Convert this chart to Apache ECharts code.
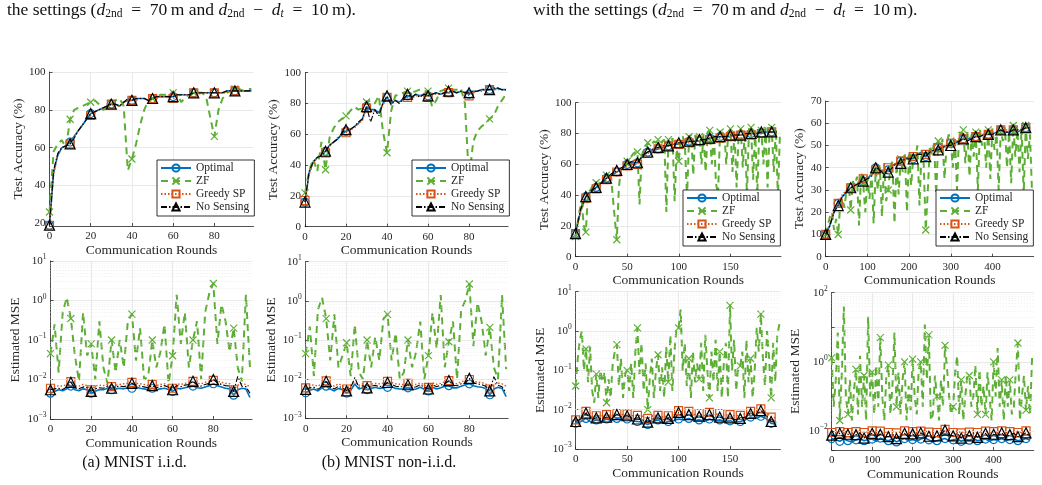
<!DOCTYPE html>
<html>
<head>
<meta charset="utf-8">
<script src="https://cdn.jsdelivr.net/npm/echarts@6/dist/echarts.min.js"></script>
<style>
html, body { margin: 0; padding: 0; background: #fff; }
#chart { width: 1042px; height: 485px; }
</style>
</head>
<body>
<div id="chart"></div>
<script>
// ---- rounds (x positions of the samples) ----
const rounds100 = Array.from({ length: 50 }, (_, i) => i * 2);    // 0..98
const rounds200 = Array.from({ length: 40 }, (_, i) => i * 5);    // 0..195
const rounds200z = Array.from({ length: 100 }, (_, i) => i * 2);  // 0..198 (ZF, denser)
const rounds500 = Array.from({ length: 50 }, (_, i) => i * 10);   // 0..490
const rounds500z = Array.from({ length: 100 }, (_, i) => i * 5);  // 0..495 (ZF, denser)

// ---- tick labels ----
const xTicks100 = [0, 20, 40, 60, 80];
const xTicks200 = [0, 50, 100, 150];
const xTicks500 = [0, 100, 200, 300, 400];
const yTicksAcc1 = [20, 40, 60, 80, 100];
const yTicksAcc = [0, 20, 40, 60, 80, 100];
const yTicksAcc70 = [0, 10, 20, 30, 40, 50, 60, 70];

// ---- (a) MNIST i.i.d., test accuracy ----
const accOpt1 = [19,47,56,60,61,63,66,69,72,75, 78,79,80,81,82,83,83,82,84,85, 85,86,86,86,85,86,87,87,87,87, 87,88,88,88,88,89,89,89,89,89, 89,89,89,90,90,90,90,90,90,90];
const accZf1 = [26,58,62,64,60,75,80,81,82,83, 84,85,83,80,81,83,85,86,82,48, 54,62,72,80,85,86,87,88,88,88, 89,88,84,87,88,89,89,89,87,76, 66,80,86,89,90,91,91,90,91,91];
const accGreedy1 = [19,46,56,60,61,62,66,69,72,75, 77,79,80,81,82,83,82,82,84,85, 85,85,86,86,85,86,86,87,87,87, 86,87,88,88,88,89,88,89,89,89, 89,89,89,89,90,90,90,90,90,90];
const accNos1 = [19,48,57,60,61,62,65,69,72,75, 78,79,80,81,82,83,83,82,84,86, 85,86,86,86,85,86,87,87,87,87, 87,88,88,88,88,89,89,89,89,89, 89,89,89,90,90,90,90,90,90,90];

// ---- (b) MNIST non-i.i.d., test accuracy ----
const accOpt2 = [16,35,42,45,47,49,53,55,57,60, 62,63,65,67,70,78,76,76,74,80, 84,80,82,81,83,85,84,86,85,86, 85,86,87,86,87,87,88,87,88,87, 86,88,88,89,89,89,89,90,89,89];
const accZf2 = [22,36,44,36,55,37,58,64,68,70, 72,75,78,76,77,81,82,80,85,62, 48,75,85,86,87,88,87,88,89,88, 88,78,82,88,89,90,89,89,90,80, 30,55,62,65,67,70,72,78,82,86];
const accGreedy2 = [17,34,41,45,47,48,52,55,58,60, 61,63,64,67,69,77,75,75,73,79, 84,81,82,81,82,84,83,85,85,86, 84,86,86,86,87,87,87,87,88,87, 85,87,88,88,89,89,89,89,89,89];
const accNos2 = [16,36,42,45,46,49,53,55,57,61, 63,63,65,68,70,78,68,76,72,80, 85,79,82,80,83,86,84,86,84,86, 85,86,87,86,87,88,88,87,88,87, 87,88,88,89,89,89,90,90,89,89];

// ---- third column, test accuracy (200 rounds) ----
const accOpt3 = [15,30,39,42,45,48,51,53,55,57, 60,61,61,65,68,69,70,71,72,73, 73,74,75,75,75,76,77,77,78,78, 78,79,79,79,80,80,80,81,81,81];
const accZf3 = [13,22,30,36,20,16,40,43,45,47, 48,46,49,50,52,53,54,55,40,25, 11,45,57,58,57,62,64,65,67,68, 68,34,65,70,71,74,72,73,75,74,
                76,70,75,76,29,76,74,77,36,70, 62,77,78,72,38,78,79,53,79,77, 78,60,80,55,81,82,60,80,48,40, 81,80,82,60,81,83,55,82,45,80,
                83,58,82,40,83,84,50,82,40,83, 82,60,84,45,83,84,55,83,38,81];
const accGreedy3 = [15,29,38,42,44,47,50,53,55,57, 59,60,60,64,67,69,70,71,72,72, 73,74,74,75,75,76,76,77,77,78, 78,78,79,79,79,80,80,80,81,81];
const accNos3 = [15,31,39,43,45,48,51,54,56,58, 60,62,61,66,68,70,71,72,72,73, 74,74,75,75,76,76,77,78,78,78, 79,79,79,80,80,80,81,81,81,81];

// ---- fourth column, test accuracy (500 rounds) ----
const accOpt4 = [10,14,20,24,27,29,31,32,33,34, 35,37,40,39,38,39,41,42,43,44, 45,44,46,47,45,47,48,49,49,50, 51,51,52,53,53,53,54,54,55,55, 55,56,57,56,56,57,56,57,58,58];
const accZf4 = [10,14,18,20,12,17,10,24,26,22, 30,33,21,34,32,36,14,38,33,20, 36,26,38,15,39,30,40,18,42,25, 30,40,43,15,42,28,44,38,46,20,
                47,32,45,44,50,23,48,42,12,30, 50,46,51,28,52,47,53,35,50,55, 52,40,54,30,56,55,57,42,56,36, 55,45,56,30,57,50,55,40,57,35,
                58,48,55,30,57,52,58,40,56,33, 59,45,57,38,58,28,59,44,55,29];
const accGreedy4 = [10,15,21,24,28,30,31,32,34,35, 36,37,39,39,39,40,41,42,43,44, 45,45,46,47,46,48,48,49,50,50, 51,52,52,53,53,54,54,55,55,55, 56,56,57,57,57,57,57,57,58,58];
const accNos4 = [10,14,20,23,27,29,31,32,33,34, 35,36,40,39,37,38,40,42,42,44, 44,44,46,46,45,47,48,48,49,50, 50,51,52,53,52,53,54,54,55,55, 55,56,57,56,56,57,57,57,58,58];

// ---- (a) MNIST i.i.d., estimated MSE ----
const mseOpt5 = [0.0045,0.005,0.0055,0.0052,0.0058,0.0068,0.0055,0.0052,0.0058,0.0055, 0.0045,0.005,0.0056,0.0055,0.006,0.0055,0.0058,0.006,0.0058,0.0062, 0.006,0.0065,0.006,0.0058,0.0055,0.006,0.0055,0.0058,0.006,0.0056, 0.005,0.006,0.0058,0.0062,0.0065,0.0068,0.0062,0.006,0.0065,0.007, 0.0078,0.007,0.0065,0.006,0.0058,0.004,0.0055,0.006,0.0058,0.0035];
const mseZf5 = [0.045,0.25,0.015,0.5,1.2,0.35,0.04,0.009,0.5,0.04, 0.08,0.01,0.3,0.02,0.008,0.1,0.015,0.1,0.02,0.3, 0.45,0.03,0.2,0.01,0.012,0.1,0.02,0.05,0.25,0.008, 0.04,1.4,0.08,0.5,0.02,0.1,0.3,0.01,0.5,1.5, 2.7,0.08,0.8,0.3,0.05,0.2,0.02,0.009,1.4,0.02];
const mseGreedy5 = [0.006,0.0065,0.007,0.0068,0.0075,0.0088,0.007,0.0068,0.0075,0.007, 0.0055,0.0068,0.0072,0.007,0.0075,0.0066,0.0072,0.0075,0.0078,0.008, 0.0085,0.008,0.0078,0.0075,0.007,0.0075,0.007,0.0075,0.0078,0.007, 0.006,0.0078,0.0075,0.008,0.0082,0.009,0.008,0.0078,0.0085,0.0088, 0.0095,0.009,0.0085,0.008,0.0078,0.0055,0.0072,0.0078,0.0075,0.0065];
const mseNos5 = [0.0055,0.0058,0.006,0.0056,0.0065,0.0085,0.006,0.0058,0.0065,0.0062, 0.005,0.0058,0.0062,0.006,0.0068,0.006,0.0065,0.0068,0.0066,0.007, 0.008,0.0072,0.0068,0.0065,0.0062,0.007,0.0062,0.0066,0.007,0.0064, 0.0055,0.007,0.0066,0.0072,0.0075,0.009,0.0072,0.0068,0.0075,0.008, 0.01,0.0082,0.0075,0.007,0.0068,0.005,0.012,0.0068,0.0066,0.0045];

// ---- (b) MNIST non-i.i.d., estimated MSE ----
const mseOpt6 = [0.0045,0.0052,0.0056,0.005,0.006,0.0066,0.0056,0.005,0.0058,0.0054, 0.0044,0.0052,0.0075,0.0056,0.006,0.0054,0.0058,0.0062,0.0058,0.006, 0.0062,0.0064,0.0058,0.0056,0.0056,0.006,0.0054,0.0056,0.0062,0.0055, 0.005,0.0062,0.0056,0.006,0.0066,0.0068,0.006,0.006,0.0066,0.0072, 0.0076,0.0068,0.0064,0.0062,0.0058,0.004,0.0056,0.0062,0.0058,0.0036];
const mseZf6 = [0.045,0.22,0.012,0.6,1.2,0.35,0.03,0.45,0.02,0.04, 0.085,0.012,0.25,0.015,0.01,0.1,0.02,0.12,0.03,0.35, 0.45,0.03,0.15,0.01,0.015,0.1,0.02,0.05,0.3,0.01, 0.04,0.5,0.06,1.4,0.02,0.09,0.3,0.01,0.6,1.0, 2.7,0.07,0.9,0.3,0.04,0.21,0.02,0.01,1.4,0.018];
const mseGreedy6 = [0.006,0.0068,0.0072,0.0066,0.0078,0.009,0.0072,0.0066,0.0076,0.0068, 0.0056,0.007,0.0085,0.007,0.0076,0.0068,0.0074,0.0078,0.0076,0.0078, 0.0088,0.0082,0.0076,0.0074,0.0072,0.0078,0.0068,0.0074,0.008,0.0072, 0.0062,0.008,0.0074,0.0078,0.0085,0.0092,0.0078,0.0076,0.0086,0.009, 0.0098,0.0088,0.0084,0.0082,0.0076,0.0056,0.0074,0.008,0.0076,0.0066];
const mseNos6 = [0.0055,0.006,0.0062,0.0055,0.0066,0.0088,0.0062,0.0056,0.0066,0.006, 0.005,0.006,0.011,0.0062,0.0068,0.006,0.0066,0.007,0.0064,0.0068, 0.0082,0.0074,0.0066,0.0064,0.0064,0.0072,0.006,0.0064,0.0072,0.0062, 0.0056,0.0072,0.0064,0.007,0.0076,0.0092,0.007,0.0068,0.0076,0.0078, 0.0105,0.008,0.0076,0.0072,0.0066,0.005,0.0115,0.007,0.0064,0.0044];

// ---- third column, estimated MSE (200 rounds) ----
const mseOpt7 = [0.0045,0.005,0.006,0.0048,0.0055,0.005,0.0058,0.0052,0.006,0.0055, 0.0058,0.0052,0.005,0.0048,0.0042,0.005,0.0055,0.0045,0.005,0.0052, 0.0058,0.0055,0.006,0.0052,0.0055,0.005,0.0058,0.0052,0.0055,0.005, 0.0052,0.0048,0.005,0.0055,0.0065,0.006,0.0068,0.006,0.0045,0.0042];
const mseZf7 = [0.04,0.2,0.6,1.0,0.1,0.35,0.05,0.4,0.03,0.015, 0.08,0.02,0.1,0.05,0.09,0.015,0.06,0.02,0.15,0.3, 0.45,0.04,0.2,0.02,0.08,0.1,0.03,0.15,0.02,0.3, 1.2,0.08,0.5,0.03,0.15,0.01,0.06,0.2,0.02,0.1,
                0.25,0.03,0.12,0.02,0.4,0.05,0.8,0.03,0.3,1.2, 1.2,3.5,0.1,0.5,0.04,0.2,0.02,0.3,0.05,0.15, 0.06,0.5,0.03,0.8,0.1,0.02,0.3,0.05,0.6,0.03, 0.3,0.02,0.15,0.5,0.02,4.5,0.1,0.6,0.03,0.12,
                0.13,0.3,0.02,0.6,0.05,0.2,0.02,0.1,1.2,0.3, 2.7,0.2,0.04,1.0,0.2,0.02,0.5,0.05,0.8,1.5];
const mseGreedy7 = [0.0055,0.0065,0.009,0.0065,0.007,0.007,0.0075,0.007,0.008,0.0075, 0.0078,0.007,0.0072,0.0068,0.006,0.007,0.0072,0.0065,0.007,0.0075, 0.0095,0.0085,0.009,0.0075,0.008,0.007,0.0085,0.0075,0.008,0.0072, 0.0075,0.007,0.0072,0.0078,0.009,0.0085,0.0105,0.0085,0.0065,0.0062];
const mseNos7 = [0.005,0.0058,0.0082,0.0055,0.0062,0.0058,0.0065,0.006,0.0075,0.0065, 0.007,0.006,0.0058,0.0055,0.0048,0.0058,0.0062,0.0055,0.006,0.0045, 0.0085,0.0065,0.0075,0.006,0.0068,0.006,0.0075,0.0062,0.0065,0.0058, 0.0062,0.0055,0.006,0.0065,0.008,0.007,0.0095,0.0072,0.005,0.0048];

// ---- fourth column, estimated MSE (500 rounds) ----
const mseOpt8 = [0.006,0.0055,0.005,0.0058,0.0052,0.0048,0.0055,0.006,0.0052,0.0056, 0.0058,0.005,0.0062,0.0055,0.0052,0.0058,0.0048,0.0055,0.006,0.0052, 0.0056,0.005,0.0058,0.0062,0.0055,0.0048,0.0052,0.0056,0.006,0.0052, 0.0055,0.0058,0.005,0.0056,0.0054,0.006,0.0052,0.0055,0.0058,0.005, 0.0056,0.0054,0.006,0.0052,0.0056,0.0058,0.0052,0.0055,0.006,0.0054];
const mseZf8 = [1.3,0.05,0.3,7,0.02,0.5,40,0.1,0.03,0.3, 0.02,0.15,0.6,0.03,1.5,0.05,0.4,0.02,20,0.1, 0.5,0.03,0.8,0.05,5,0.1,0.02,0.4,0.8,0.03, 0.2,7,0.05,0.5,0.03,0.3,1.0,0.02,0.2,0.04,
                1.2,0.1,0.03,0.6,1.0,0.05,12,0.3,6,0.02, 0.03,0.4,0.1,0.02,0.3,0.05,3,0.6,0.1,0.03, 0.05,0.5,1.5,0.03,0.3,0.02,0.1,0.4,0.4,0.05, 0.1,0.8,0.03,0.6,0.05,0.2,0.03,0.5,0.1,0.02,
                1.0,0.1,2.5,0.05,0.3,0.02,0.4,0.05,0.3,0.03, 0.05,0.6,3.5,0.02,0.1,0.4,0.04,0.2,0.03,1.3];
const mseGreedy8 = [0.009,0.0085,0.0095,0.01,0.009,0.0085,0.0095,0.01,0.009,0.0095, 0.01,0.0088,0.0098,0.0092,0.009,0.0095,0.0088,0.0092,0.01,0.009, 0.0095,0.0088,0.0098,0.01,0.0092,0.0088,0.009,0.0095,0.011,0.0095, 0.009,0.0098,0.0088,0.0095,0.0092,0.01,0.009,0.0094,0.0098,0.0088, 0.0095,0.0092,0.01,0.009,0.0095,0.0098,0.009,0.0094,0.01,0.0092];
const mseNos8 = [0.0075,0.007,0.0085,0.0065,0.008,0.006,0.0078,0.0088,0.0062,0.0075, 0.0085,0.0065,0.008,0.007,0.0068,0.0082,0.006,0.0078,0.0085,0.0065, 0.0082,0.0062,0.0088,0.0075,0.007,0.006,0.0072,0.008,0.0105,0.0075, 0.0072,0.0085,0.0062,0.008,0.0072,0.0088,0.0065,0.0078,0.0085,0.006, 0.008,0.0072,0.0088,0.0065,0.0078,0.0085,0.0068,0.0075,0.0088,0.007];

// ---- styling ----
const FONT = '"Liberation Serif", "DejaVu Serif", serif';
const INK = '#262626';
const GRID_C = '#e3e3e3';
const STYLES = [
  { key: 'opt', name: 'Optimal', color: '#0072BD', symbol: 'circle', size: 8, width: 1.6, type: 'solid' },
  { key: 'zf', name: 'ZF', color: '#5DAE34', symbol: 'path://M0,0L10,10M10,0L0,10', size: 7, width: 2, type: [7, 5] },
  { key: 'greedy', name: 'Greedy SP', color: '#D95319', symbol: 'rect', size: 8, width: 1.4, type: [1.5, 2] },
  { key: 'nos', name: 'No Sensing', color: '#000000', symbol: 'triangle', size: 10, width: 1.1, type: [6, 2, 1.5, 2] }
];

const panels = [
  { rounds: rounds100, d: { opt: accOpt1, zf: accZf1, greedy: accGreedy1, nos: accNos1 }, every: 10,
    grid: { left: 49.5, top: 72, width: 204, height: 154 }, xMax: 99, xTicks: xTicks100,
    y: { min: 18.6, max: 100, ticks: yTicksAcc1 }, yName: 'Test Accuracy (%)', yGap: 23, legend: [157, 160] },
  { rounds: rounds100, d: { opt: accOpt2, zf: accZf2, greedy: accGreedy2, nos: accNos2 }, every: 10,
    grid: { left: 305, top: 72.7, width: 203, height: 154 }, xMax: 99, xTicks: xTicks100,
    y: { min: 0, max: 100, ticks: yTicksAcc }, yName: 'Test Accuracy (%)', yGap: 25, legend: [412, 160] },
  { rounds: rounds200, zfRounds: rounds200z, d: { opt: accOpt3, zf: accZf3, greedy: accGreedy3, nos: accNos3 }, every: 10,
    grid: { left: 575.5, top: 102.7, width: 205.5, height: 154 }, xMax: 199, xTicks: xTicks200,
    y: { min: 0, max: 100, ticks: yTicksAcc }, yName: 'Test Accuracy (%)', yGap: 22, legend: [683, 190] },
  { rounds: rounds500, zfRounds: rounds500z, d: { opt: accOpt4, zf: accZf4, greedy: accGreedy4, nos: accNos4 }, every: 30,
    grid: { left: 825.7, top: 101, width: 208, height: 155.7 }, xMax: 499, xTicks: xTicks500,
    y: { min: 0, max: 70, ticks: yTicksAcc70 }, yName: 'Test Accuracy (%)', yGap: 19, legend: [936, 190] },
  { rounds: rounds100, d: { opt: mseOpt5, zf: mseZf5, greedy: mseGreedy5, nos: mseNos5 }, every: 10,
    grid: { left: 50.5, top: 261, width: 201.5, height: 158 }, xMax: 99, xTicks: xTicks100,
    y: { log: true, min: 0.001, max: 10 }, yName: 'Estimated MSE', yGap: 28 },
  { rounds: rounds100, d: { opt: mseOpt6, zf: mseZf6, greedy: mseGreedy6, nos: mseNos6 }, every: 10,
    grid: { left: 305.7, top: 261.7, width: 202.5, height: 156.6 }, xMax: 99, xTicks: xTicks100,
    y: { log: true, min: 0.001, max: 10 }, yName: 'Estimated MSE', yGap: 27 },
  { rounds: rounds200, zfRounds: rounds200z, d: { opt: mseOpt7, zf: mseZf7, greedy: mseGreedy7, nos: mseNos7 }, every: 10,
    grid: { left: 575.7, top: 291.7, width: 204.7, height: 157.3 }, xMax: 199, xTicks: xTicks200,
    y: { log: true, min: 0.001, max: 10 }, yName: 'Estimated MSE', yGap: 28 },
  { rounds: rounds500, zfRounds: rounds500z, d: { opt: mseOpt8, zf: mseZf8, greedy: mseGreedy8, nos: mseNos8 }, every: 20,
    grid: { left: 831.7, top: 292.7, width: 202, height: 157.3 }, xMax: 499, xTicks: xTicks500,
    y: { log: true, min: 0.0028, max: 100, evenOnly: true }, yName: 'Estimated MSE', yGap: 29 }
];

const tickText = { fontFamily: FONT, fontSize: 11, color: INK };
const nameText = { fontFamily: FONT, fontSize: 13.5, color: INK };

function powLabel(v, evenOnly) {
  const e = Math.round(Math.log10(v) * 100) / 100;
  if (e !== Math.round(e)) return '';
  if (evenOnly && e % 2 !== 0) return '';
  return '{b|10}{e|' + (e < 0 ? '\u2212' + (-e) : e) + '}';
}

// minor log grid lines at 2..9 x 10^k
function minorLines(min, max) {
  const out = [];
  for (let k = -4; k <= 2; k++) {
    for (let m = 2; m <= 9; m++) {
      const v = m * Math.pow(10, k);
      if (v > min && v < max) out.push({ yAxis: v });
    }
  }
  return out;
}

const grids = [], xAxes = [], yAxes = [], series = [], legends = [];

panels.forEach((p, i) => {
  grids.push(p.grid);
  xAxes.push({
    type: 'value', gridIndex: i, min: 0, max: p.xMax,
    name: 'Communication Rounds', nameLocation: 'middle', nameGap: 17, nameTextStyle: nameText,
    axisLine: { onZero: false, lineStyle: { color: INK, width: 0.8 } },
    axisTick: { inside: true, length: 3, customValues: p.xTicks, lineStyle: { color: INK, width: 0.8 } },
    axisLabel: Object.assign({ margin: 5, customValues: p.xTicks }, tickText),
    splitLine: { show: true, showMaxLine: false, lineStyle: { color: GRID_C, width: 0.8 } }
  });

  const yAxis = {
    gridIndex: i, min: p.y.min, max: p.y.max,
    name: p.yName, nameLocation: 'middle', nameGap: p.yGap, nameTextStyle: nameText,
    axisLine: { show: true, onZero: false, lineStyle: { color: INK, width: 0.8 } },
    axisTick: { show: true, inside: true, length: 3, lineStyle: { color: INK, width: 0.8 } },
    splitLine: { show: true, showMinLine: false, lineStyle: { color: GRID_C, width: 0.8 } }
  };
  if (p.y.log) {
    yAxis.type = 'log';
    yAxis.logBase = 10;
    yAxis.axisLabel = Object.assign({
      margin: 4,
      formatter: v => powLabel(v, p.y.evenOnly),
      rich: {
        b: { fontFamily: FONT, fontSize: 11, color: INK, lineHeight: 15 },
        e: { fontFamily: FONT, fontSize: 7.5, color: INK, lineHeight: 8, verticalAlign: 'top' }
      }
    }, tickText);
  } else {
    yAxis.type = 'value';
    yAxis.axisTick.customValues = p.y.ticks;
    yAxis.axisLabel = Object.assign({ margin: 4, customValues: p.y.ticks }, tickText);
  }
  yAxes.push(yAxis);

  STYLES.forEach((s, j) => {
    const vals = p.d[s.key];
    const xs = (s.key === 'zf' && p.zfRounds) ? p.zfRounds : p.rounds;
    const ser = {
      name: s.name, type: 'line', xAxisIndex: i, yAxisIndex: i,
      data: xs.map((r, k) => ({ value: [r, vals[k]], symbol: r % p.every === 0 ? s.symbol : 'none' })),
      symbol: s.symbol, symbolSize: s.size, showAllSymbol: true,
      color: s.color,
      lineStyle: { color: s.color, width: s.width, type: s.type },
      itemStyle: { color: 'rgba(255,255,255,0)', borderColor: s.color, borderWidth: 1.2 },
      emphasis: { disabled: true }, silent: true, animation: false, clip: true, z: 2 + j
    };
    if (j === 0 && p.y.log) {
      ser.markLine = {
        silent: true, symbol: 'none', animation: false, label: { show: false },
        lineStyle: { color: '#e6e6e6', type: [1, 2], width: 0.7 },
        data: minorLines(p.y.min, p.y.max)
      };
    }
    series.push(ser);
  });

  if (p.legend) {
    legends.push({
      orient: 'vertical', left: p.legend[0], top: p.legend[1],
      data: STYLES.map(s => s.name), selectedMode: false,
      itemWidth: 30, itemHeight: 9, itemGap: 1,
      padding: [2, 5, 3, 3],
      backgroundColor: '#fff', borderColor: '#000', borderWidth: 0.8, borderRadius: 0,
      textStyle: { fontFamily: FONT, fontSize: 11.5, color: INK }
    });
  }
});

const sub = { fontFamily: FONT, fontSize: 11.5, fill: '#111', lineHeight: 11, verticalAlign: 'bottom' };
const subI = { fontFamily: FONT, fontSize: 11.5, fontStyle: 'italic', fill: '#111', lineHeight: 11, verticalAlign: 'bottom' };
const nrm = { fontFamily: FONT, fontSize: 17.5, fill: '#111', lineHeight: 20 };
const itl = { fontFamily: FONT, fontSize: 17.5, fontStyle: 'italic', fill: '#111', lineHeight: 20 };
const settingsRich = { n: nrm, i: itl, s: sub, t: subI };
const settingsTail = '{i|d}{s|2nd}{n|\u2002=\u200270\u2009m and }{i|d}{s|2nd}{n|\u2002\u2212\u2002}{i|d}{t|t}{n|\u2002=\u200210\u2009m).}';

const chart = echarts.init(document.getElementById('chart'), null, { renderer: 'canvas' });
chart.setOption({
  backgroundColor: '#fff',
  animation: false,
  grid: grids, xAxis: xAxes, yAxis: yAxes, series: series, legend: legends,
  graphic: [
    { type: 'text', x: 7, y: 0, style: { text: '{n|the settings (}' + settingsTail, rich: settingsRich } },
    { type: 'text', x: 533, y: 0, style: { text: '{n|with the settings (}' + settingsTail, rich: settingsRich } },
    { type: 'text', x: 134.5, y: 455, style: { text: '(a) MNIST i.i.d.', font: '16px "Liberation Serif"', fill: '#111', textAlign: 'center', align: 'center' } },
    { type: 'text', x: 389, y: 455, style: { text: '(b) MNIST non-i.i.d.', font: '16px "Liberation Serif"', fill: '#111', textAlign: 'center', align: 'center' } }
  ]
});
</script>
</body>
</html>
